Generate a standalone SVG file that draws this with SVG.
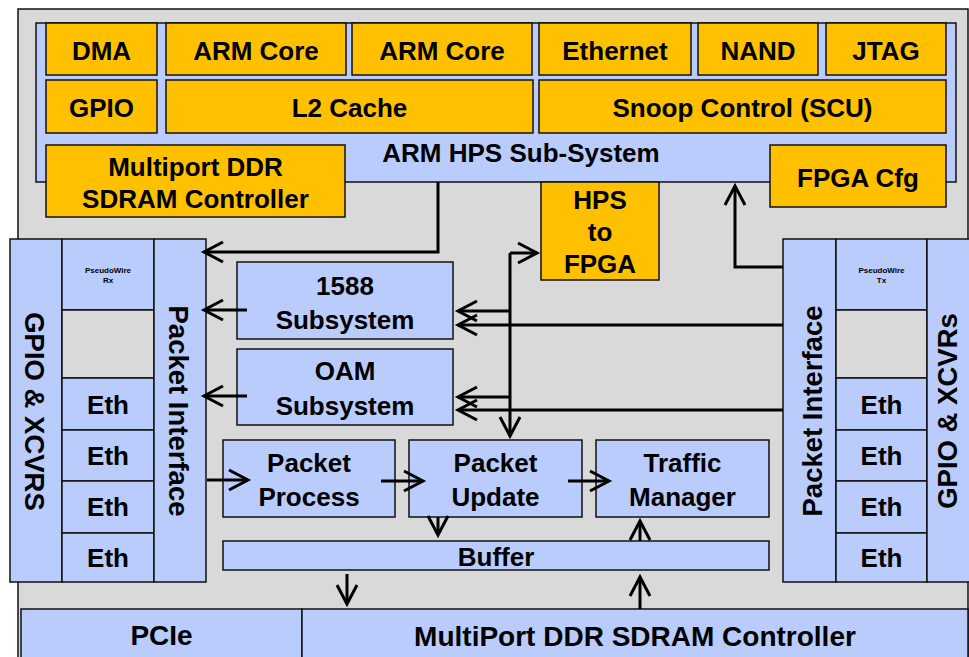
<svg xmlns="http://www.w3.org/2000/svg" width="969" height="657" viewBox="0 0 969 657">
<style>
.bg{fill:#D9D9D9;stroke:#111;stroke-width:1.5}
.b{fill:#B9CCFB;stroke:#111;stroke-width:1.5}
.o{fill:#FFC000;stroke:#111;stroke-width:1.5}
.g{fill:#D9D9D9;stroke:#111;stroke-width:1.5}
text{font-family:"Liberation Sans",Arial,sans-serif;font-weight:bold;fill:#000;text-anchor:middle}
.t{font-size:26px}
.tr{font-size:27.5px}
.tb{font-size:28px}
.ts{font-size:8px}
.c{fill:none;stroke:#000;stroke-width:3;marker-end:url(#ah)}
</style>
<defs>
<marker id="ah" viewBox="-26 -14 32 28" markerWidth="32" markerHeight="28" refX="0" refY="0" orient="auto" markerUnits="userSpaceOnUse">
<path d="M-19,-10 L0,0 L-19,10" fill="none" stroke="#000" stroke-width="3"/>
</marker>
</defs>

<rect id="board" class="bg" x="18" y="9" width="950" height="660"/>

<g id="hps">
<rect class="b" x="36" y="23" width="920" height="159"/>
<text class="t" x="521" y="162">ARM HPS Sub-System</text>
</g>
<g id="dma"><rect class="o" x="46" y="23" width="111" height="52"/><text class="t" x="101.5" y="60">DMA</text></g>
<g id="armcore1"><rect class="o" x="166" y="23" width="180" height="52"/><text class="t" x="256" y="60">ARM Core</text></g>
<g id="armcore2"><rect class="o" x="352" y="23" width="180" height="52"/><text class="t" x="442" y="60">ARM Core</text></g>
<g id="ethernet"><rect class="o" x="539" y="23" width="152" height="52"/><text class="t" x="615" y="60">Ethernet</text></g>
<g id="nand"><rect class="o" x="698" y="23" width="120" height="52"/><text class="t" x="758" y="60">NAND</text></g>
<g id="jtag"><rect class="o" x="826" y="23" width="120" height="52"/><text class="t" x="886" y="60">JTAG</text></g>
<g id="gpio"><rect class="o" x="46" y="80" width="111" height="53"/><text class="t" x="101.5" y="117">GPIO</text></g>
<g id="l2cache"><rect class="o" x="166" y="80" width="367" height="53"/><text class="t" x="349.5" y="117">L2 Cache</text></g>
<g id="scu"><rect class="o" x="539" y="80" width="407" height="53"/><text class="t" x="742.5" y="117">Snoop Control (SCU)</text></g>
<g id="hpsddr"><rect class="o" x="46" y="145" width="299" height="72"/><text class="t" x="195.5" y="176">Multiport DDR</text><text class="t" x="195.5" y="208">SDRAM Controller</text></g>
<g id="fpgacfg"><rect class="o" x="770" y="145" width="176" height="62"/><text class="t" x="858" y="187">FPGA Cfg</text></g>
<g id="hps2fpga"><rect class="o" x="541" y="182" width="118" height="98"/><text class="t" x="600" y="209">HPS</text><text class="t" x="600" y="241">to</text><text class="t" x="600" y="273">FPGA</text></g>

<g id="left-io">
<rect class="b" x="10" y="239" width="52" height="343"/>
<rect class="b" x="62" y="239" width="92" height="71"/>
<rect class="g" x="62" y="310" width="92" height="68"/>
<rect class="b" x="62" y="378" width="92" height="52"/>
<rect class="b" x="62" y="430" width="92" height="51"/>
<rect class="b" x="62" y="481" width="92" height="52"/>
<rect class="b" x="62" y="533" width="92" height="49"/>
<rect class="b" x="154" y="239" width="52" height="343"/>
<text class="tr" transform="translate(25,411.5) rotate(90)">GPIO &amp; XCVRS</text>
<text class="tr" transform="translate(169,411) rotate(90)">Packet Interface</text>
<text class="ts" x="108" y="273">PseudoWire</text>
<text class="ts" x="108" y="283">Rx</text>
<text class="t" x="108" y="414">Eth</text>
<text class="t" x="108" y="465">Eth</text>
<text class="t" x="108" y="516">Eth</text>
<text class="t" x="108" y="567">Eth</text>
</g>

<g id="right-io">
<rect class="b" x="783" y="239" width="53" height="343"/>
<rect class="b" x="836" y="239" width="91" height="71"/>
<rect class="g" x="836" y="310" width="91" height="68"/>
<rect class="b" x="836" y="378" width="91" height="52"/>
<rect class="b" x="836" y="430" width="91" height="51"/>
<rect class="b" x="836" y="481" width="91" height="52"/>
<rect class="b" x="836" y="533" width="91" height="49"/>
<rect class="b" x="927" y="239" width="50" height="343"/>
<text class="tr" transform="translate(822,411) rotate(-90)">Packet Interface</text>
<text class="tr" transform="translate(957,411) rotate(-90)">GPIO &amp; XCVRs</text>
<text class="ts" x="881.5" y="273">PseudoWire</text>
<text class="ts" x="881.5" y="283">Tx</text>
<text class="t" x="881.5" y="414">Eth</text>
<text class="t" x="881.5" y="465">Eth</text>
<text class="t" x="881.5" y="516">Eth</text>
<text class="t" x="881.5" y="567">Eth</text>
</g>

<g id="s1588"><rect class="b" x="237" y="262" width="216" height="77"/><text class="t" x="345" y="295">1588</text><text class="t" x="345" y="329">Subsystem</text></g>
<g id="oam"><rect class="b" x="237" y="349" width="216" height="76"/><text class="t" x="345" y="380">OAM</text><text class="t" x="345" y="415">Subsystem</text></g>
<g id="pktproc"><rect class="b" x="223" y="440" width="172" height="77"/><text class="t" x="309" y="472">Packet</text><text class="t" x="309" y="506">Process</text></g>
<g id="pktupd"><rect class="b" x="409" y="440" width="173" height="77"/><text class="t" x="495.5" y="472">Packet</text><text class="t" x="495.5" y="506">Update</text></g>
<g id="traffic"><rect class="b" x="596" y="440" width="173" height="77"/><text class="t" x="682.5" y="472">Traffic</text><text class="t" x="682.5" y="506">Manager</text></g>
<g id="buffer"><rect class="b" x="223" y="541" width="546" height="29"/><text class="t" x="496" y="566">Buffer</text></g>
<g id="pcie"><rect class="b" x="21" y="609" width="281" height="60"/><text class="tb" x="161.5" y="645">PCIe</text></g>
<g id="ddr"><rect class="b" x="302" y="609" width="666" height="60"/><text class="tb" x="635" y="646">MultiPort DDR SDRAM Controller</text></g>

<g id="connectors">
<path class="c" d="M438,182 V252 H204"/>
<path class="c" d="M247,310 H204"/>
<path class="c" d="M247,396 H204"/>
<path class="c" d="M510,253 V436"/>
<path class="c" d="M510,253 H537"/>
<path class="c" d="M510,311 H458"/>
<path class="c" d="M783,325 H458"/>
<path class="c" d="M510,397 H458"/>
<path class="c" d="M783,410 H458"/>
<path class="c" d="M783,267 H735 V186"/>
<path class="c" d="M207,480 H248"/>
<path class="c" d="M381,481 H423"/>
<path class="c" d="M568,481 H609"/>
<path class="c" d="M438,517 V535"/>
<path class="c" d="M347,574 V604"/>
<path class="c" d="M640,609 V577"/>
<path class="c" d="M640,541 V521"/>
</g>
</svg>
